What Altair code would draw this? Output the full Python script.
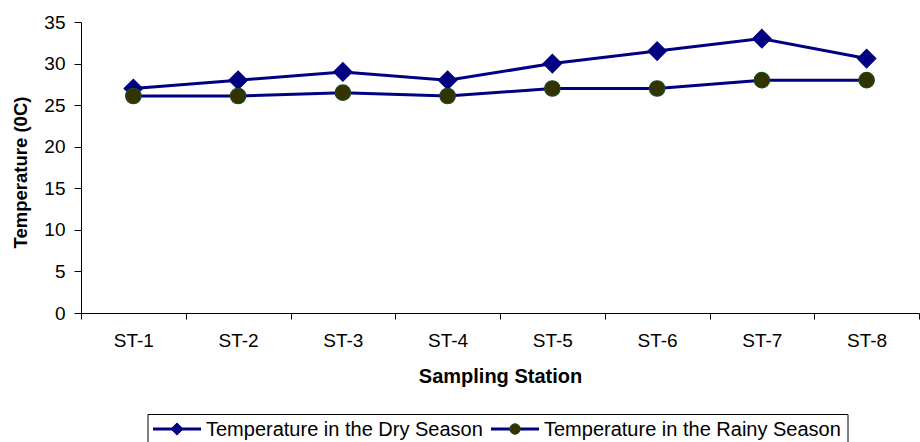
import altair as alt
import pandas as pd

stations = ["ST-1", "ST-2", "ST-3", "ST-4", "ST-5", "ST-6", "ST-7", "ST-8"]
dry_season = [27.0, 28.0, 29.0, 28.0, 30.0, 31.5, 33.0, 30.6]
rainy_season = [26.1, 26.1, 26.5, 26.1, 27.0, 27.0, 28.0, 28.0]
series_names = ["Temperature in the Dry Season", "Temperature in the Rainy Season"]
y_ticks = [0, 5, 10, 15, 20, 25, 30, 35]

rows = []
for st, d, r in zip(stations, dry_season, rainy_season):
    rows.append({"Station": st, "Season": series_names[0], "Temp": d})
    rows.append({"Station": st, "Season": series_names[1], "Temp": r})
df = pd.DataFrame(rows)

NAVY = "#000080"
OLIVE = "#333300"
OLIVE_EDGE = "#1f4a1f"
FONT = "Liberation Sans"

x_enc = alt.X(
    "Station:N",
    sort=stations,
    bandPosition=0.5,
    scale=alt.Scale(type="band", paddingInner=0, paddingOuter=0),
    axis=alt.Axis(
        title="Sampling Station",
        labelAngle=0,
        tickBand="extent",
        tickSize=6,
        labelPadding=12,
        titlePadding=16,
        titleFontSize=20,
    ),
)
y_enc = alt.Y(
    "Temp:Q",
    scale=alt.Scale(domain=[0, 35], nice=False),
    axis=alt.Axis(
        title="Temperature (0C)",
        values=y_ticks,
        grid=False,
        tickSize=7,
        labelPadding=9,
        titlePadding=13,
        titleFontSize=18.5,
        titleY=150,
    ),
)

lines = alt.Chart(df).mark_line(color=NAVY, strokeWidth=3).encode(
    x=x_enc, y=y_enc, detail="Season:N"
)

points = alt.Chart(df).mark_point(filled=True, opacity=1, strokeWidth=1.2).encode(
    x=x_enc,
    y=y_enc,
    shape=alt.Shape("Season:N", scale=alt.Scale(domain=series_names, range=["diamond", "circle"]), legend=None),
    size=alt.Size("Season:N", scale=alt.Scale(domain=series_names, range=[340, 240]), legend=None),
    fill=alt.Fill("Season:N", scale=alt.Scale(domain=series_names, range=[NAVY, OLIVE]), legend=None),
    stroke=alt.Stroke("Season:N", scale=alt.Scale(domain=series_names, range=[NAVY, OLIVE_EDGE]), legend=None),
)

# hand-built legend box below the axis title
one = pd.DataFrame({"k": [0]})
legend_box = alt.Chart(one).mark_rect(fill="white", stroke="#000000", strokeWidth=1).encode(
    x=alt.value(67), x2=alt.value(767), y=alt.value(392.5), y2=alt.value(440)
)


def legend_entry(name, x0, shape, fill, edge, size):
    seg = alt.Chart(one).mark_rule(color=NAVY, strokeWidth=3).encode(
        x=alt.value(x0), x2=alt.value(x0 + 48), y=alt.value(407)
    )
    sym = alt.Chart(one).mark_point(
        shape=shape, filled=True, fill=fill, stroke=edge, strokeWidth=1, opacity=1, size=size
    ).encode(x=alt.value(x0 + 24), y=alt.value(407))
    lab = alt.Chart(one).mark_text(
        text=name, align="left", baseline="middle", font=FONT, fontSize=20, color="#000000"
    ).encode(x=alt.value(x0 + 53), y=alt.value(408))
    return seg + sym + lab


legend_dry = legend_entry(series_names[0], 72, "diamond", NAVY, NAVY, 150)
legend_rainy = legend_entry(series_names[1], 410, "circle", OLIVE, OLIVE_EDGE, 110)

chart = (
    alt.layer(lines, points, legend_box, legend_dry, legend_rainy)
    .resolve_scale(shape="independent", stroke="independent")
    .properties(
        width=838,
        height=291,
        autosize=alt.AutoSizeParams(type="none"),
        padding={"left": 81, "top": 22, "right": 1, "bottom": 129},
    )
    .configure_view(stroke=None)
    .configure_axis(
        domainColor="#000000",
        tickColor="#000000",
        labelColor="#000000",
        titleColor="#000000",
        labelFont=FONT,
        titleFont=FONT,
        labelFontSize=19,
        titleFontWeight="bold",
        domainWidth=1,
        tickWidth=1,
    )
)

chart.save("out.html", embed_options={"renderer": "svg", "actions": False})
